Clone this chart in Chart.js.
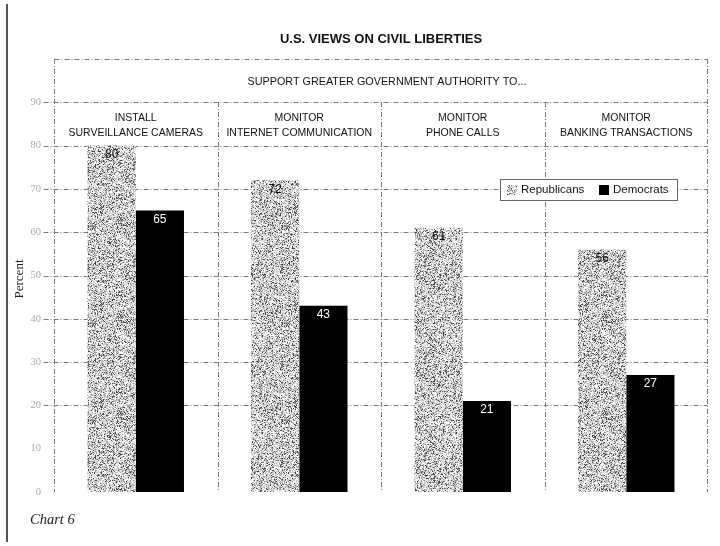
<!DOCTYPE html>
<html><head><meta charset="utf-8">
<script src="https://cdn.jsdelivr.net/npm/chart.js@4"></script>
<style>html,body{margin:0;padding:0;background:#fff}canvas{display:block}</style>
</head><body>
<canvas id="c" width="720" height="546"></canvas>
<script>
const categories = [["INSTALL","SURVEILLANCE CAMERAS"],["MONITOR","INTERNET COMMUNICATION"],["MONITOR","PHONE CALLS"],["MONITOR","BANKING TRANSACTIONS"]];
const republicans = [80, 72, 61, 56];
const democrats = [65, 43, 21, 27];
const seriesNames = ["Republicans", "Democrats"];
const gridValues = [20, 30, 40, 50, 60, 70, 80, 90, 100];
const chartTitle = "U.S. VIEWS ON CIVIL LIBERTIES";
const groupHeader = "SUPPORT GREATER GOVERNMENT AUTHORITY TO...";
const yTitle = "Percent";
const caption = "Chart 6";

const canvas = document.getElementById('c');
const mainCtx = canvas.getContext('2d');

function mulberry32(a){return function(){a|=0;a=a+0x6D2B79F5|0;let t=Math.imul(a^a>>>15,1|a);t=t+Math.imul(t^t>>>7,61|t)^t;return((t^t>>>14)>>>0)/4294967296;}}
function makeNoisePattern(){
  const n=97, c=document.createElement('canvas'); c.width=c.height=n;
  const g=c.getContext('2d'); const img=g.createImageData(n,n); const rnd=mulberry32(20240607);
  for(let i=0;i<n*n;i++){
    const r=rnd();
    const v = r<0.12?70:(r<0.3?150:(r<0.55?200:(r<0.78?232:255)));
    img.data[i*4]=img.data[i*4+1]=img.data[i*4+2]=v; img.data[i*4+3]=255;
  }
  g.putImageData(img,0,0);
  return mainCtx.createPattern(c,'repeat');
}
const noise = makeNoisePattern();

const SANS = '"Liberation Sans", Arial, sans-serif';
const SERIF = '"Liberation Serif", "Times New Roman", serif';

function dashedLine(ctx,x1,y1,x2,y2){ctx.beginPath();ctx.moveTo(x1,y1);ctx.lineTo(x2,y2);ctx.stroke();}

const framePlugin = {
  id:'frame',
  beforeDatasetsDraw(chart){
    const {ctx, chartArea:a, scales:{x,y}} = chart;
    ctx.save();
    ctx.strokeStyle='#7a7a7a'; ctx.lineWidth=1; ctx.setLineDash([5,2,1,2]);
    const L=Math.round(a.left)+0.5, R=Math.round(a.right)-0.5;
    gridValues.forEach(v=>{
      const py=Math.round(y.getPixelForValue(v))+0.5;
      dashedLine(ctx, v===100?L:L-11, py, R, py);
    });
    const top=Math.round(y.getPixelForValue(100)), y90=Math.round(y.getPixelForValue(90)), bot=Math.round(y.getPixelForValue(0));
    dashedLine(ctx,L,top,L,bot);
    dashedLine(ctx,R,top,R,bot);
    for(let i=1;i<categories.length;i++){
      const px=Math.round((x.getPixelForValue(i-1)+x.getPixelForValue(i))/2)+0.5;
      dashedLine(ctx,px,y90,px,bot);
    }
    ctx.restore();
  },
  afterDraw(chart){
    const {ctx, chartArea:a, scales:{x,y}} = chart;
    ctx.save();
    ctx.fillStyle='#555'; ctx.fillRect(6,4,2,538);
    ctx.textAlign='center'; ctx.textBaseline='middle'; ctx.fillStyle='#111';
    ctx.font='bold 13px '+SANS;
    ctx.fillText(chartTitle,(a.left+a.right)/2,39);
    ctx.font='10.8px '+SANS;
    ctx.fillText(groupHeader,(a.left+a.right)/2+6,(y.getPixelForValue(100)+y.getPixelForValue(90))/2+1);
    ctx.font='10.5px '+SANS;
    categories.forEach((lines,i)=>{
      const cx=x.getPixelForValue(i);
      ctx.fillText(lines[0],cx,118);
      ctx.fillText(lines[1],cx,133.5);
    });
    ctx.font='12px '+SANS;
    chart.data.datasets.forEach((ds,di)=>{
      const meta=chart.getDatasetMeta(di);
      meta.data.forEach((bar,i)=>{
        ctx.fillStyle = di===0 ? '#111' : '#fff';
        ctx.fillText(String(ds.data[i]), bar.x, bar.y+9);
      });
    });
    ctx.save(); ctx.translate(20,279); ctx.rotate(-Math.PI/2);
    ctx.font='13px '+SERIF; ctx.fillStyle='#222'; ctx.fillText(yTitle,0,0); ctx.restore();
    ctx.textAlign='left'; ctx.font='italic 14.5px '+SERIF; ctx.fillStyle='#222';
    ctx.fillText(caption,30,520);
    const lx=500, ly=179, lw=177, lh=21;
    ctx.fillStyle='#fff'; ctx.fillRect(lx,ly,lw,lh);
    ctx.strokeStyle='#666'; ctx.lineWidth=1; ctx.setLineDash([]);
    ctx.strokeRect(lx+0.5,ly+0.5,lw,lh);
    const cy=ly+lh/2+0.5;
    ctx.fillStyle=noise; ctx.fillRect(507,cy-5,10,10);
    ctx.fillStyle='#000'; ctx.fillRect(599,cy-5,10,10);
    ctx.fillStyle='#111'; ctx.font='11.5px '+SANS;
    ctx.fillText(seriesNames[0],521,cy);
    ctx.fillText(seriesNames[1],613,cy);
    ctx.restore();
  }
};

new Chart(canvas,{
  type:'bar',
  data:{
    labels:categories,
    datasets:[
      {label:seriesNames[0], data:republicans, backgroundColor:noise, borderWidth:0},
      {label:seriesNames[1], data:democrats, backgroundColor:'#000', borderWidth:0}
    ]
  },
  options:{
    responsive:false, animation:false,
    categoryPercentage:0.59, barPercentage:1.0,
    layout:{padding:{top:59,right:12,bottom:54,left:0}},
    plugins:{legend:{display:false},tooltip:{enabled:false},title:{display:false}},
    scales:{
      x:{display:false},
      y:{min:0,max:100,
        grid:{display:false}, border:{display:false},
        ticks:{stepSize:10,padding:5,color:'#aaaaaa',font:{family:SERIF,size:10.5},
          callback:v=>v===100?'':v},
        afterFit(s){s.width=54;}
      }
    }
  },
  plugins:[framePlugin]
});
</script>
</body></html>
